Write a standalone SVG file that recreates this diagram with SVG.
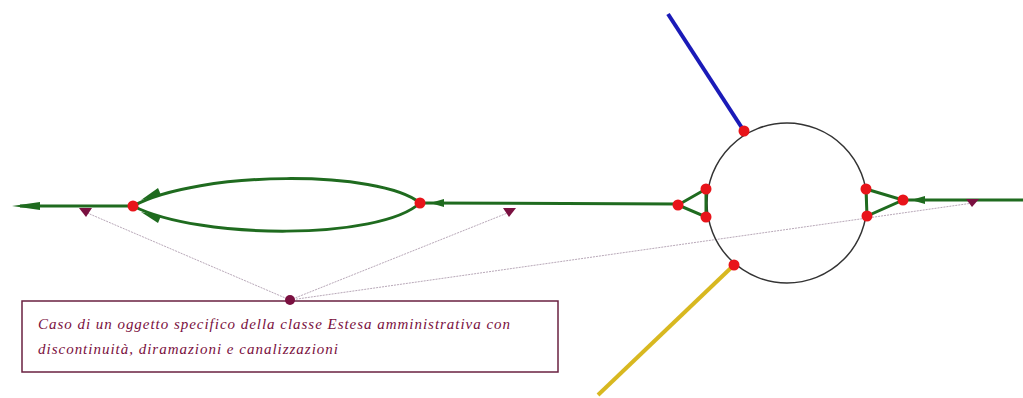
<svg xmlns="http://www.w3.org/2000/svg" width="1023" height="398" viewBox="0 0 1023 398">
<style>
.g{stroke:#1f6b1f;stroke-width:3;fill:none}
.ah{fill:#1f6b1f}
.dot{fill:#e8141a}
.ptr{stroke:#b8a8b8;stroke-width:1;stroke-dasharray:2 1;fill:none}
.mk{fill:#7a1040}
.t{font-family:"Liberation Serif",serif;font-style:italic;font-size:15px;fill:#7a1040}
</style>
<rect width="1023" height="398" fill="#fff"/>
<g id="connectors">
<line class="ptr" x1="290" y1="300" x2="85" y2="212"/>
<line class="ptr" x1="290" y1="300" x2="510" y2="212"/>
<line class="ptr" x1="290" y1="300" x2="973" y2="203"/>
</g>
<g id="roundabout">
<circle cx="787" cy="203" r="80" fill="none" stroke="#333" stroke-width="1.5"/>
</g>
<g id="road-green">
<line class="g" x1="133" y1="206" x2="20" y2="206"/>
<path class="ah" d="M40,202 L12,206 L40,210 Z"/>
<path class="g" d="M420,203 C380,170 200,170 133,206"/>
<path class="g" d="M420,203 C380,240 200,240 133,206"/>
<path class="ah" d="M158,188 L141,200 L161,195 Z"/>
<path class="ah" d="M158,223 L141,212 L161,216 Z"/>
<line class="g" x1="678" y1="204" x2="420" y2="203"/>
<path class="ah" d="M444,199 L430,203 L444,207 Z"/>
<path class="g" d="M706,189 L678,205 L706,217 Z"/>
<path class="g" d="M866,189 L903,200 L867,216 Z"/>
<line class="g" x1="1023" y1="200" x2="903" y2="200"/>
<path class="ah" d="M925,196 L911,200 L925,204 Z"/>
</g>
<g id="road-blue"><line x1="668" y1="14" x2="744" y2="131" stroke="#1a1ab8" stroke-width="4"/></g>
<g id="road-yellow"><line x1="598" y1="395" x2="734" y2="265" stroke="#d8b820" stroke-width="4"/></g>
<g id="markers">
<path class="mk" d="M79,208 L92,208 L86,217 Z"/>
<path class="mk" d="M503,208 L516,208 L509,217 Z"/>
<path class="mk" d="M966,199 L979,199 L972,207 Z"/>
</g>
<g id="nodes">
<circle class="dot" cx="133" cy="206" r="5.5"/>
<circle class="dot" cx="420" cy="203" r="5.5"/>
<circle class="dot" cx="678" cy="205" r="5.5"/>
<circle class="dot" cx="706" cy="189" r="5.5"/>
<circle class="dot" cx="706" cy="217" r="5.5"/>
<circle class="dot" cx="866" cy="189" r="5.5"/>
<circle class="dot" cx="867" cy="216" r="5.5"/>
<circle class="dot" cx="903" cy="200" r="5.5"/>
<circle class="dot" cx="744" cy="131" r="5.5"/>
<circle class="dot" cx="734" cy="265" r="5.5"/>
</g>
<g id="note">
<rect x="22" y="301" width="536" height="71" fill="#fff" stroke="#6a2040" stroke-width="1.5"/>
<circle cx="290" cy="300" r="5" fill="#7a1040"/>
<text class="t" x="38" y="329" textLength="472" lengthAdjust="spacing">Caso di un oggetto specifico della classe Estesa amministrativa con</text>
<text class="t" x="38" y="354" textLength="300" lengthAdjust="spacing">discontinuità, diramazioni e canalizzazioni</text>
</g>
</svg>
